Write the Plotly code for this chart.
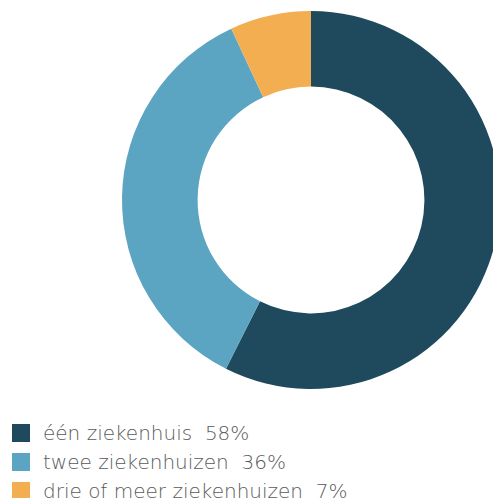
import plotly.graph_objects as go

# Distribution of patients by number of hospitals visited
labels = ["één ziekenhuis", "twee ziekenhuizen", "drie of meer ziekenhuizen"]
shares = [58, 36, 7]
colors = ["#1f4a5e", "#5ca5c2", "#f3ae52"]

W, H = 510, 498
FONT = "DejaVu Sans"

fig = go.Figure()
fig.add_trace(go.Pie(
    labels=labels,
    values=shares,
    hole=0.6,
    sort=False,
    direction="clockwise",
    rotation=0,
    marker=dict(colors=colors, line=dict(width=0)),
    textinfo="none",
    hoverinfo="label+value",
    showlegend=False,
    domain=dict(x=[121 / W, 501 / W], y=[1 - 389 / H, 1 - 11 / H]),
))

# Hand-built legend: square swatch + label with percentage
row0, step, sq = 433, 29, 18
for i, (lab, val, col) in enumerate(zip(labels, shares, colors)):
    yc = row0 + i * step
    fig.add_shape(
        type="rect", xref="paper", yref="paper",
        x0=12 / W, x1=(12 + sq) / W,
        y0=1 - (yc + sq / 2) / H, y1=1 - (yc - sq / 2) / H,
        fillcolor=col, line=dict(width=0),
    )
    fig.add_annotation(
        xref="paper", yref="paper", x=41 / W, y=1 - (yc - 0.5) / H,
        xanchor="left", yanchor="middle", showarrow=False,
        text=f"{lab}  {val}%",
        font=dict(family=FONT, size=20, color="#5a5a5a", weight=200),
    )

fig.update_layout(
    width=W, height=H, autosize=False,
    margin=dict(l=0, r=0, t=0, b=0),
    paper_bgcolor="white", plot_bgcolor="white",
)

fig.write_html(
    "out.html",
    post_script="document.body.style.margin='0';document.body.style.overflow='hidden';"
                "document.documentElement.style.overflow='hidden';",
)
